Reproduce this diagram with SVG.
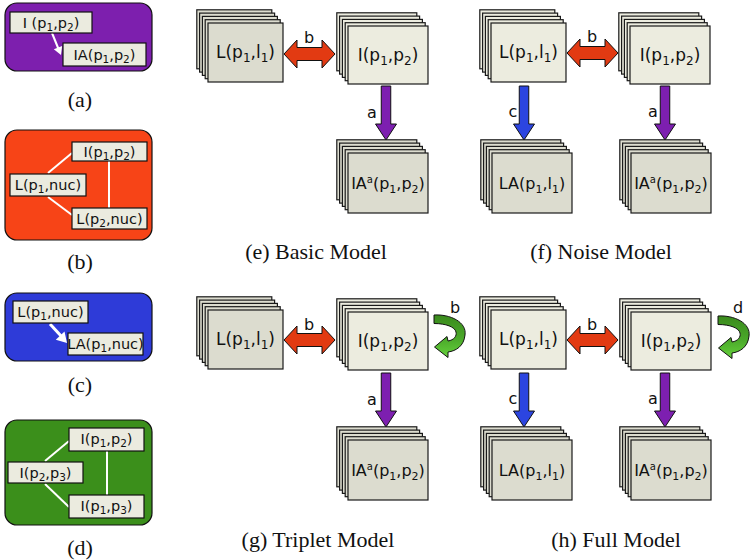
<svg xmlns="http://www.w3.org/2000/svg" xmlns:xlink="http://www.w3.org/1999/xlink" width="750" height="560" viewBox="0 0 750 560">
<style>
.card rect{stroke:#1a1a1a;stroke-width:1.2}
.lt{fill:#dcdccf}
.li{fill:#ececdf}
.box{fill:#ebebdf;stroke:#111;stroke-width:1.2}
.panel{stroke:#111;stroke-width:1.2}
.ct{font-family:"DejaVu Sans",Verdana,sans-serif;font-size:17px;fill:#111;text-anchor:middle}
.ct .s{font-size:12px}
.ct.n{font-size:16px}
.ct.n .s{font-size:11px}
.bt{font-family:"DejaVu Sans",Verdana,sans-serif;font-size:14.5px;fill:#111;text-anchor:middle}
.bt .s{font-size:10.5px}
.lab{font-family:"DejaVu Sans",Verdana,sans-serif;font-size:16px;fill:#111;text-anchor:middle}
.cap{font-family:"Liberation Serif","Times New Roman",serif;font-size:22px;fill:#111;text-anchor:middle}
.wl{stroke:#fff;stroke-width:2;fill:none}
.wa{stroke:#fff;stroke-width:3;fill:none}
.wh{fill:#fff}
.red{fill:#e23a12;stroke:#111;stroke-width:1}
.pur{fill:#7d1fb0;stroke:#111;stroke-width:1}
.blu{fill:#2c45e0;stroke:#111;stroke-width:1}
.grn{fill:url(#gg);stroke:#111;stroke-width:1}
</style>
<defs>
<linearGradient id="gg" x1="0" y1="0" x2="0" y2="1">
<stop offset="0" stop-color="#3a8a1c"/>
<stop offset="0.55" stop-color="#4aa82a"/>
<stop offset="1" stop-color="#66d23c"/>
</linearGradient>
<g id="sL" class="card">
<rect x="-11.2" y="-13.2" width="75" height="59"/>
<rect x="-8.4" y="-9.9" width="75" height="59"/>
<rect x="-5.6" y="-6.6" width="75" height="59"/>
<rect x="-2.8" y="-3.3" width="75" height="59"/>
<rect x="0" y="0" width="75" height="59"/>
</g>
<g id="sI" class="card">
<rect x="-11.2" y="-13.2" width="80" height="58"/>
<rect x="-8.4" y="-9.9" width="80" height="58"/>
<rect x="-5.6" y="-6.6" width="80" height="58"/>
<rect x="-2.8" y="-3.3" width="80" height="58"/>
<rect x="0" y="0" width="80" height="58"/>
</g>
<g id="sA" class="card">
<rect x="-11.2" y="-13.2" width="80" height="60"/>
<rect x="-8.4" y="-9.9" width="80" height="60"/>
<rect x="-5.6" y="-6.6" width="80" height="60"/>
<rect x="-2.8" y="-3.3" width="80" height="60"/>
<rect x="0" y="0" width="80" height="60"/>
</g>
<path id="dbl" d="M0,0 L13,-14 L13,-6.5 L38,-6.5 L38,-14 L51,0 L38,14 L38,6.5 L13,6.5 L13,14 Z"/>
<path id="dn" d="M-4.75,0 L4.75,0 L4.75,38 L10.5,38 L0,54 L-10.5,38 L-4.75,38 Z"/>
<path id="loop" d="M434,315 C450,314 467,322 465,335 C464,346 456,351 448,352 L448,357.5 L434.5,347 L447,336.5 L448,341 C454,340 457,336 456,332 C455,327 446,323.5 434,323.5 Z"/>
</defs>

<!-- panel backgrounds -->
<g id="panel-a"><rect class="panel" x="5" y="3" width="147" height="68" rx="12" fill="#7d1fae"/></g>
<g id="panel-b"><rect class="panel" x="5" y="130" width="147" height="110" rx="12" fill="#f74417"/></g>
<g id="panel-c"><rect class="panel" x="5" y="293" width="147" height="68" rx="12" fill="#2e3bd8"/></g>
<g id="panel-d"><rect class="panel" x="5" y="420" width="147" height="105" rx="12" fill="#3b8f1b"/></g>

<g id="connectors">
<line class="wl" x1="52" y1="33" x2="58.5" y2="49"/>
<polygon class="wh" points="62.1,45.9 53.8,49.3 61,55"/>
<line class="wl" x1="48" y1="173" x2="72" y2="153"/>
<line class="wl" x1="48" y1="197" x2="72" y2="215"/>
<line class="wl" x1="109" y1="161" x2="109" y2="208"/>
<line class="wa" x1="50" y1="324" x2="62" y2="337"/>
<polygon class="wh" points="64.5,331.6 55.8,339.8 67,343"/>
<line class="wl" x1="45" y1="461" x2="69" y2="441"/>
<line class="wl" x1="45" y1="484" x2="69" y2="507"/>
<line class="wl" x1="107" y1="451" x2="107" y2="495"/>

<use href="#dbl" class="red" x="284" y="54"/>
<use href="#dn" class="pur" x="386" y="86"/>
<use href="#dbl" class="red" x="567" y="53"/>
<use href="#dn" class="blu" x="524" y="86"/>
<use href="#dn" class="pur" x="665" y="86"/>
<use href="#dbl" class="red" x="284" y="340"/>
<use href="#dn" class="pur" x="386" y="373"/>
<use href="#loop" class="grn"/>
<use href="#dbl" class="red" x="567" y="340"/>
<use href="#dn" class="blu" x="524" y="373"/>
<use href="#dn" class="pur" x="665" y="373"/>
<use href="#loop" class="grn" transform="translate(284,1)"/>

<text class="lab" x="309" y="43">b</text>
<text class="lab" x="372" y="118">a</text>
<text class="lab" x="592" y="42">b</text>
<text class="lab" x="513" y="117">c</text>
<text class="lab" x="653" y="117">a</text>
<text class="lab" x="309" y="330">b</text>
<text class="lab" x="372" y="405">a</text>
<text class="lab" x="455" y="313">b</text>
<text class="lab" x="592" y="330">b</text>
<text class="lab" x="513" y="404">c</text>
<text class="lab" x="653" y="404">a</text>
<text class="lab" x="738" y="313">d</text>
</g>

<!-- left small boxes -->
<g id="a-I"><rect class="box" x="10" y="12" width="82" height="21"/><text class="bt" x="51" y="28">I (p<tspan class="s" dy="3">1</tspan><tspan dy="-3">,p</tspan><tspan class="s" dy="3">2</tspan><tspan dy="-3">)</tspan></text></g>
<g id="a-IA"><rect class="box" x="63" y="43" width="83" height="23"/><text class="bt" x="104.5" y="60">IA(p<tspan class="s" dy="3">1</tspan><tspan dy="-3">,p</tspan><tspan class="s" dy="3">2</tspan><tspan dy="-3">)</tspan></text></g>

<g id="b-I"><rect class="box" x="72" y="142" width="75" height="19"/><text class="bt" x="109.5" y="157">I(p<tspan class="s" dy="3">1</tspan><tspan dy="-3">,p</tspan><tspan class="s" dy="3">2</tspan><tspan dy="-3">)</tspan></text></g>
<g id="b-L1"><rect class="box" x="10" y="174" width="76" height="22"/><text class="bt" x="48" y="190">L(p<tspan class="s" dy="3">1</tspan><tspan dy="-3">,nuc)</tspan></text></g>
<g id="b-L2"><rect class="box" x="72" y="208" width="75" height="21"/><text class="bt" x="109.5" y="224">L(p<tspan class="s" dy="3">2</tspan><tspan dy="-3">,nuc)</tspan></text></g>

<g id="c-L"><rect class="box" x="13" y="301" width="75" height="22"/><text class="bt" x="50.5" y="317">L(p<tspan class="s" dy="3">1</tspan><tspan dy="-3">,nuc)</tspan></text></g>
<g id="c-LA"><rect class="box" x="68" y="333" width="75" height="22"/><text class="bt" x="105.5" y="349">LA(p<tspan class="s" dy="3">1</tspan><tspan dy="-3">,nuc)</tspan></text></g>

<g id="d-I12"><rect class="box" x="69" y="428" width="75" height="23"/><text class="bt" x="106.5" y="444">I(p<tspan class="s" dy="3">1</tspan><tspan dy="-3">,p</tspan><tspan class="s" dy="3">2</tspan><tspan dy="-3">)</tspan></text></g>
<g id="d-I23"><rect class="box" x="8" y="462" width="75" height="21"/><text class="bt" x="45.5" y="478">I(p<tspan class="s" dy="3">2</tspan><tspan dy="-3">,p</tspan><tspan class="s" dy="3">3</tspan><tspan dy="-3">)</tspan></text></g>
<g id="d-I13"><rect class="box" x="69" y="495" width="75" height="23"/><text class="bt" x="106.5" y="511">I(p<tspan class="s" dy="3">1</tspan><tspan dy="-3">,p</tspan><tspan class="s" dy="3">3</tspan><tspan dy="-3">)</tspan></text></g>

<!-- (e) -->
<g id="e-L"><use href="#sL" class="lt" x="208" y="23"/><text class="ct" x="245.5" y="58">L(p<tspan class="s" dy="4">1</tspan><tspan dy="-4">,l</tspan><tspan class="s" dy="4">1</tspan><tspan dy="-4">)</tspan></text></g>
<g id="e-I"><use href="#sI" class="li" x="348" y="26"/><text class="ct" x="388" y="61">I(p<tspan class="s" dy="4">1</tspan><tspan dy="-4">,p</tspan><tspan class="s" dy="4">2</tspan><tspan dy="-4">)</tspan></text></g>
<g id="e-IA"><use href="#sA" class="lt" x="348" y="153"/><text class="ct n" x="388" y="189">IA<tspan dy="-6" font-size="10">a</tspan><tspan dy="6">(p</tspan><tspan class="s" dy="4">1</tspan><tspan dy="-4">,p</tspan><tspan class="s" dy="4">2</tspan><tspan dy="-4">)</tspan></text></g>

<!-- (f) -->
<g id="f-L"><use href="#sL" class="li" x="491" y="23"/><text class="ct" x="528.5" y="58">L(p<tspan class="s" dy="4">1</tspan><tspan dy="-4">,l</tspan><tspan class="s" dy="4">1</tspan><tspan dy="-4">)</tspan></text></g>
<g id="f-I"><use href="#sI" class="li" x="630" y="26"/><text class="ct" x="670" y="61">I(p<tspan class="s" dy="4">1</tspan><tspan dy="-4">,p</tspan><tspan class="s" dy="4">2</tspan><tspan dy="-4">)</tspan></text></g>
<g id="f-LA"><use href="#sA" class="lt" x="492" y="153"/><text class="ct n" x="532" y="189">LA(p<tspan class="s" dy="4">1</tspan><tspan dy="-4">,l</tspan><tspan class="s" dy="4">1</tspan><tspan dy="-4">)</tspan></text></g>
<g id="f-IA"><use href="#sA" class="lt" x="631" y="153"/><text class="ct n" x="671" y="189">IA<tspan dy="-6" font-size="10">a</tspan><tspan dy="6">(p</tspan><tspan class="s" dy="4">1</tspan><tspan dy="-4">,p</tspan><tspan class="s" dy="4">2</tspan><tspan dy="-4">)</tspan></text></g>

<!-- (g) -->
<g id="g-L"><use href="#sL" class="lt" x="208" y="310"/><text class="ct" x="245.5" y="345">L(p<tspan class="s" dy="4">1</tspan><tspan dy="-4">,l</tspan><tspan class="s" dy="4">1</tspan><tspan dy="-4">)</tspan></text></g>
<g id="g-I"><use href="#sI" class="li" x="348" y="312"/><text class="ct" x="388" y="347">I(p<tspan class="s" dy="4">1</tspan><tspan dy="-4">,p</tspan><tspan class="s" dy="4">2</tspan><tspan dy="-4">)</tspan></text></g>
<g id="g-IA"><use href="#sA" class="lt" x="348" y="440"/><text class="ct n" x="388" y="476">IA<tspan dy="-6" font-size="10">a</tspan><tspan dy="6">(p</tspan><tspan class="s" dy="4">1</tspan><tspan dy="-4">,p</tspan><tspan class="s" dy="4">2</tspan><tspan dy="-4">)</tspan></text></g>

<!-- (h) -->
<g id="h-L"><use href="#sL" class="li" x="491" y="310"/><text class="ct" x="528.5" y="345">L(p<tspan class="s" dy="4">1</tspan><tspan dy="-4">,l</tspan><tspan class="s" dy="4">1</tspan><tspan dy="-4">)</tspan></text></g>
<g id="h-I"><use href="#sI" class="li" x="631" y="312"/><text class="ct" x="671" y="347">I(p<tspan class="s" dy="4">1</tspan><tspan dy="-4">,p</tspan><tspan class="s" dy="4">2</tspan><tspan dy="-4">)</tspan></text></g>
<g id="h-LA"><use href="#sA" class="lt" x="492" y="440"/><text class="ct n" x="532" y="476">LA(p<tspan class="s" dy="4">1</tspan><tspan dy="-4">,l</tspan><tspan class="s" dy="4">1</tspan><tspan dy="-4">)</tspan></text></g>
<g id="h-IA"><use href="#sA" class="lt" x="631" y="440"/><text class="ct n" x="671" y="476">IA<tspan dy="-6" font-size="10">a</tspan><tspan dy="6">(p</tspan><tspan class="s" dy="4">1</tspan><tspan dy="-4">,p</tspan><tspan class="s" dy="4">2</tspan><tspan dy="-4">)</tspan></text></g>

<!-- captions -->
<g id="captions">
<text class="cap" x="80" y="107">(a)</text>
<text class="cap" x="80" y="269">(b)</text>
<text class="cap" x="80" y="392">(c)</text>
<text class="cap" x="80" y="555">(d)</text>
<text class="cap" x="316" y="259">(e) Basic Model</text>
<text class="cap" x="601" y="259">(f) Noise Model</text>
<text class="cap" x="318" y="547">(g) Triplet Model</text>
<text class="cap" x="616" y="547">(h) Full Model</text>
</g>
</svg>
